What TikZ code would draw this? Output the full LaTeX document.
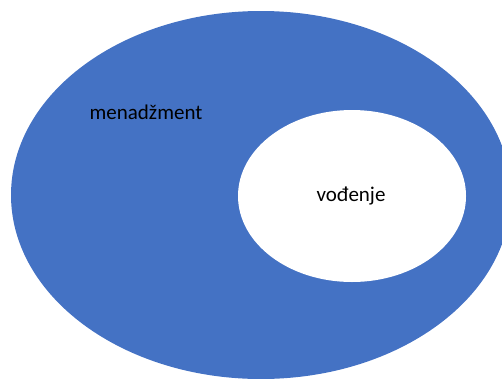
\documentclass[tikz,border=0pt]{standalone}
\usepackage{fontspec}
\setmainfont{Carlito}
\usepackage[HTML]{xcolor}
\definecolor{setblue}{HTML}{4472C4}
\usetikzlibrary{positioning}

\begin{document}
\begin{tikzpicture}[x=1pt, y=-1pt, lbl/.style={font=\fontsize{21}{25}\selectfont, text=black, inner sep=0pt}]
\clip (0,0) rectangle (502,378);
% centres
\coordinate (M) at (261,195);
\coordinate (V) at (352,196);
% sets
\fill[setblue] (M) ellipse [x radius=250, y radius=184];
\fill[white] (V) ellipse [x radius=114, y radius=86];
% labels
\node[lbl] (menadzment) at (146,112) {menadžment};
\node[lbl] (vodjenje) at (351,196) {vođenje};
\end{tikzpicture}
\end{document}
